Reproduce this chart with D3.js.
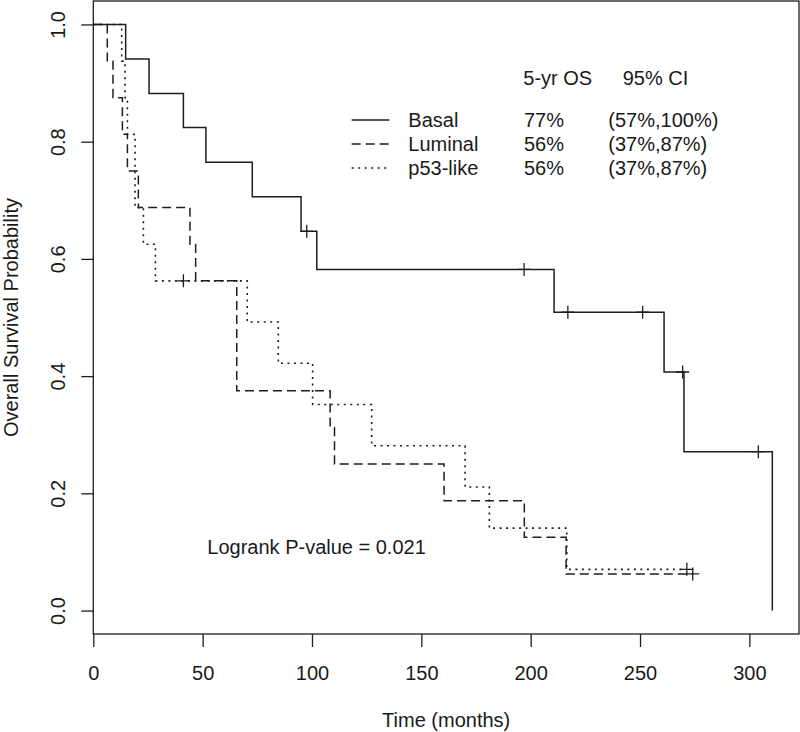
<!DOCTYPE html>
<html>
<head>
<meta charset="utf-8">
<script src="https://cdn.jsdelivr.net/npm/d3@7"></script>
<style>
  html, body { margin: 0; padding: 0; background: #fff; }
  svg { display: block; }
  text { font-family: "Liberation Sans", Arial, Helvetica, sans-serif; fill: #1a1a1a; }
</style>
</head>
<body>
<svg id="chart" width="800" height="732"></svg>
<script>
// ---- data ----
const basalTime = [0, 14.8, 25.5, 41.2, 51.5, 72.7, 95.0, 102.2, 210.7, 261.0, 270.1, 310.5];
const basalSurv = [1, 0.941, 0.882, 0.824, 0.765, 0.706, 0.647, 0.582, 0.509, 0.407, 0.271, 0];
const basalCensor = [97.6, 197.0, 217.0, 251.2, 269.5, 304.1];

const luminalTime = [0, 6.4, 9.0, 13.3, 15.6, 20.6, 44.2, 46.8, 65.6, 108.3, 110.3, 160.4, 197.1, 216.2];
const luminalSurv = [1, 0.9375, 0.875, 0.8125, 0.75, 0.6875, 0.625, 0.5625, 0.375, 0.3125, 0.25, 0.1875, 0.125, 0.0625];
const luminalCensor = [274.1];

const p53Time = [0, 13.0, 14.5, 15.6, 19.1, 22.9, 28.4, 70.4, 84.6, 100.3, 127.3, 170.0, 181.1, 216.5];
const p53Surv = [1, 0.9375, 0.875, 0.8125, 0.6875, 0.625, 0.5625, 0.4922, 0.4219, 0.3516, 0.2812, 0.2109, 0.1406, 0.0703];
const p53Censor = [41.2, 271.4];

const groupNames = ["Basal", "Luminal", "p53-like"];
const osText = ["77%", "56%", "56%"];
const ciText = ["(57%,100%)", "(37%,87%)", "(37%,87%)"];
const xTicks = [0, 50, 100, 150, 200, 250, 300];
const yTicks = [0, 0.2, 0.4, 0.6, 0.8, 1.0];
const pText = "Logrank P-value = 0.021";

// ---- scales ----
const svg = d3.select("#chart");
const x = d3.scaleLinear().domain([0, 322.7]).range([93.3, 799]);
const y = d3.scaleLinear().domain([-0.04, 1.04]).range([634, 1]);
const ink = "#1e1e1e";

// frame
svg.append("rect")
  .attr("x", x(0)).attr("y", y(1.04))
  .attr("width", x(322.7) - x(0)).attr("height", y(-0.04) - y(1.04))
  .attr("fill", "none").attr("stroke", ink).attr("stroke-width", 1.3);

// x axis
const xAxis = svg.append("g").attr("transform", `translate(0,${y(-0.04)})`)
  .call(d3.axisBottom(x).tickValues(xTicks).tickSize(13).tickPadding(20).tickFormat(d3.format("d")));
xAxis.select(".domain").remove();
xAxis.selectAll(".tick line").attr("stroke", ink).attr("stroke-width", 1.3);
xAxis.selectAll(".tick text").attr("font-size", 20).attr("fill", ink)
  .attr("font-family", "Liberation Sans, Arial, sans-serif").attr("dy", 0).attr("y", 46);

// y axis
const yAxis = svg.append("g").attr("transform", `translate(${x(0)},0)`)
  .call(d3.axisLeft(y).tickValues(yTicks).tickSize(12).tickFormat(d3.format(".1f")));
yAxis.select(".domain").remove();
yAxis.selectAll(".tick line").attr("stroke", ink).attr("stroke-width", 1.3);
yAxis.selectAll(".tick text").remove();
yAxis.selectAll(".tick").append("text")
  .attr("transform", "translate(-28.3,0) rotate(-90)")
  .attr("text-anchor", "middle").attr("font-size", 20).attr("fill", ink)
  .text(d => d3.format(".1f")(d));

// titles
svg.append("text").attr("x", (x(0) + x(322.7)) / 2).attr("y", 727)
  .attr("text-anchor", "middle").attr("font-size", 20).text("Time (months)");
svg.append("text").attr("transform", `translate(17.5,${(y(1.04) + y(-0.04)) / 2}) rotate(-90)`)
  .attr("text-anchor", "middle").attr("font-size", 20).text("Overall Survival Probability");

// curves
const curves = [
  { t: basalTime, s: basalSurv, c: basalCensor, dash: null, w: 1.5, end: null },
  { t: luminalTime, s: luminalSurv, c: luminalCensor, dash: "9,5", w: 1.5, end: luminalCensor[luminalCensor.length - 1] },
  { t: p53Time, s: p53Surv, c: p53Censor, dash: "2,4.5", w: 1.6, end: p53Censor[p53Censor.length - 1] }
];
const line = d3.line().x(d => x(d[0])).y(d => y(d[1])).curve(d3.curveStepAfter);
function survAt(t, times, surv) {
  let v = surv[0];
  for (let i = 0; i < times.length; i++) if (times[i] <= t) v = surv[i];
  return v;
}
curves.forEach(cv => {
  const pts = cv.t.map((t, i) => [t, cv.s[i]]);
  if (cv.end !== null) pts.push([cv.end, cv.s[cv.s.length - 1]]);
  const p = svg.append("path").attr("d", line(pts))
    .attr("fill", "none").attr("stroke", ink).attr("stroke-width", cv.w);
  if (cv.dash) p.attr("stroke-dasharray", cv.dash);
  cv.c.forEach(ct => {
    const cx = x(ct), cy = y(survAt(ct, cv.t, cv.s));
    svg.append("path").attr("d", `M${cx - 6.5},${cy}H${cx + 6.5}M${cx},${cy - 6.5}V${cy + 6.5}`)
      .attr("stroke", ink).attr("stroke-width", 1.3).attr("fill", "none");
  });
});

// legend
const lg = svg.append("g");
lg.append("text").attr("x", 523.3).attr("y", 85).attr("font-size", 20).text("5-yr OS");
lg.append("text").attr("x", 622.7).attr("y", 85).attr("font-size", 20).text("95% CI");
groupNames.forEach((g, i) => {
  const by = 126.7 + i * 24;
  const l = lg.append("line").attr("x1", 351.7).attr("x2", 389.3).attr("y1", by - 6.7).attr("y2", by - 6.7)
    .attr("stroke", ink).attr("stroke-width", i === 0 ? 1.5 : 1.4);
  if (curves[i].dash) l.attr("stroke-dasharray", curves[i].dash);
  lg.append("text").attr("x", 408.3).attr("y", by).attr("font-size", 20).text(g);
  lg.append("text").attr("x", 524).attr("y", by).attr("font-size", 20).text(osText[i]);
  lg.append("text").attr("x", 608.3).attr("y", by).attr("font-size", 20).text(ciText[i]);
});

svg.append("text").attr("x", 207.3).attr("y", 554.3).attr("font-size", 20).text(pText);
</script>
</body>
</html>
